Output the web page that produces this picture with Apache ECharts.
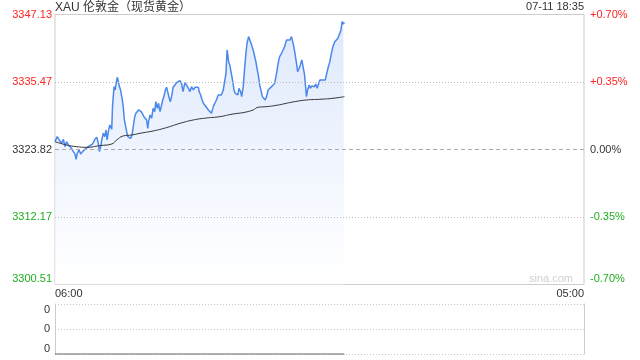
<!DOCTYPE html>
<html>
<head>
<meta charset="utf-8">
<script src="https://cdn.jsdelivr.net/npm/echarts@6/dist/echarts.min.js"></script>
<style>
html,body{margin:0;padding:0;background:#fff;}
#c{width:640px;height:360px;}
</style>
</head>
<body>
<div id="c"></div>
<script>
// ---- data ----
const title = 'XAU 伦敦金（现货黄金）';
const stamp = '07-11 18:35';
const watermark = 'sina.com';
const sessionLabels = ['06:00', '05:00'];   // x-axis ends
const sessionMinutes = 1380;                // 06:00 -> 05:00 next day
const prevClose = 3323.82;
const priceMin = 3300.51;
const priceMax = 3347.13;
const leftLabels = ['3300.51', '3312.17', '3323.82', '3335.47', '3347.13'];
const rightLabels = ['-0.70%', '-0.35%', '0.00%', '+0.35%', '+0.70%'];
const gridLevels = [3312.17, 3335.47];

// minutes since 06:00
const times = [0,6,11,17,22,26,30,35,39,43,48,52,55,58,63,67,72,78,83,87,91,98,104,109,113,116,119,122,126,130,133,136,139,143,148,150,154,157,161,163,167,171,175,178,181,184,187,190,194,197,201,204,208,211,215,218,222,225,228,232,235,239,242,244,248,252,256,260,263,267,270,274,277,281,284,288,291,295,298,301,305,308,313,317,321,326,330,334,339,343,348,352,356,361,365,369,374,376,380,383,387,391,395,400,404,408,413,417,421,426,430,434,439,442,446,449,453,456,460,463,467,470,473,477,480,484,487,491,494,498,501,505,507,510,513,517,520,524,527,531,534,538,541,545,548,552,556,560,565,569,573,578,582,586,591,595,599,604,608,613,617,619,623,626,630,633,637,640,644,647,651,654,656,659,663,666,670,673,677,680,684,687,691,694,698,701,705,708,712,717,721,725,730,734,738,743,746,749,752,755];
const prices = [3325.18,3326.04,3325.46,3324.89,3325.58,3324.31,3325.18,3324.60,3324.89,3324.03,3323.45,3323.05,3322.13,3323.16,3323.74,3323.05,3323.45,3323.85,3323.62,3324.31,3324.43,3324.77,3325.58,3325.93,3324.89,3323.45,3324.31,3325.46,3326.62,3326.04,3327.19,3325.46,3326.90,3328.05,3327.31,3331.22,3334.67,3334.10,3335.83,3336.29,3334.96,3334.10,3332.66,3331.22,3328.92,3328.63,3326.90,3326.04,3326.33,3325.75,3326.33,3326.16,3329.49,3330.07,3329.78,3330.65,3330.93,3330.36,3330.65,3329.49,3329.78,3328.92,3327.48,3328.63,3329.78,3329.21,3330.93,3330.36,3332.08,3330.93,3331.80,3330.36,3331.22,3332.37,3332.95,3334.10,3334.56,3333.52,3332.66,3332.08,3333.24,3334.56,3334.96,3335.37,3335.54,3335.71,3335.25,3333.81,3335.37,3334.96,3334.39,3333.81,3334.67,3334.10,3334.56,3334.79,3334.56,3333.81,3333.24,3332.49,3331.80,3331.51,3331.11,3330.65,3330.93,3330.07,3331.22,3331.80,3332.37,3333.24,3333.52,3333.24,3334.10,3333.81,3336.98,3341.01,3338.99,3338.42,3338.13,3335.83,3334.10,3333.52,3333.81,3333.24,3334.39,3333.81,3332.95,3334.67,3337.26,3340.43,3342.16,3343.31,3343.60,3342.44,3342.16,3341.01,3340.14,3338.99,3337.84,3336.40,3334.96,3333.81,3332.95,3332.66,3332.37,3332.95,3334.10,3334.21,3334.67,3334.79,3335.25,3336.98,3338.70,3339.85,3340.43,3341.01,3341.58,3342.73,3343.02,3342.73,3343.31,3343.42,3341.58,3340.43,3338.70,3337.26,3337.84,3338.42,3339.28,3338.13,3336.69,3334.39,3332.95,3334.10,3334.96,3334.39,3334.79,3334.96,3334.67,3335.13,3334.39,3334.67,3335.83,3336.11,3335.83,3335.94,3335.83,3336.69,3337.84,3338.99,3340.43,3341.58,3342.44,3342.73,3343.02,3343.31,3344.46,3345.90,3345.50,3345.73];

const avgTimes = [0,30,56,83,117,148,161,178,200,222,256,291,326,361,395,430,465,491,517,530,552,578,604,621,656,691,725,755];
const avgPrices = [3325.18,3324.60,3324.31,3324.20,3324.49,3324.77,3325.46,3326.16,3326.33,3326.62,3327.02,3327.60,3328.34,3328.92,3329.26,3329.49,3329.96,3330.19,3330.65,3331.11,3331.22,3331.45,3331.80,3332.03,3332.37,3332.49,3332.66,3332.95];

const volTimes = [0, 755];
const volumes = [0, 0];
const volLabels = ['0', '0', '0'];

// ---- chart ----
const FONT = '"Liberation Sans", Arial, "Noto Sans CJK SC", sans-serif';
const RED = '#f22', GREEN = '#1fae1f', DARK = '#333';
const labelColor = (v, i) => (i > 2 ? RED : (i === 2 ? DARK : GREEN));
const pair = (xs, ys) => xs.map((x, i) => [x, ys[i]]);

const chart = echarts.init(document.getElementById('c'), null, {renderer: 'canvas'});
chart.setOption({
  animation: false,
  textStyle: {fontFamily: FONT},
  title: [
    {text: title, left: 55, top: 1.5, padding: 0, textStyle: {fontSize: 12, fontWeight: 'normal', color: DARK, fontFamily: FONT}},
    {text: stamp, right: 56, top: 1.5, padding: 0, textStyle: {fontSize: 11, fontWeight: 'normal', color: DARK, fontFamily: FONT}},
    {text: watermark, right: 67, top: 273, padding: 0, textStyle: {fontSize: 11, fontWeight: 'normal', color: '#d0d0d0', fontFamily: FONT}}
  ],
  grid: [
    {left: 55, right: 56, top: 14.5, height: 270, show: true, borderColor: '#ccc', borderWidth: 1, backgroundColor: 'transparent'},
    {left: 55, right: 56, top: 304, height: 50}
  ],
  xAxis: [
    {type: 'value', gridIndex: 0, min: 0, max: sessionMinutes, interval: sessionMinutes,
     axisLine: {show: false}, axisTick: {show: false}, splitLine: {show: false},
     axisLabel: {formatter: (v, i) => sessionLabels[i], color: DARK, fontSize: 11, margin: 4,
                 alignMinLabel: 'left', alignMaxLabel: 'right', fontFamily: FONT}},
    {type: 'value', gridIndex: 1, min: 0, max: sessionMinutes, show: false}
  ],
  yAxis: [
    {type: 'value', gridIndex: 0, min: priceMin, max: priceMax, interval: (priceMax - priceMin) / 4,
     axisLine: {show: false}, axisTick: {show: false}, splitLine: {show: false},
     axisLabel: {formatter: (v, i) => leftLabels[i], color: labelColor, fontSize: 11, margin: 3,
                 verticalAlignMinLabel: 'bottom', verticalAlignMaxLabel: 'top', fontFamily: FONT}},
    {type: 'value', gridIndex: 0, position: 'right', min: priceMin, max: priceMax, interval: (priceMax - priceMin) / 4,
     axisLine: {show: false}, axisTick: {show: false}, splitLine: {show: false},
     axisLabel: {formatter: (v, i) => rightLabels[i], color: labelColor, fontSize: 11, margin: 6,
                 verticalAlignMinLabel: 'bottom', verticalAlignMaxLabel: 'top', fontFamily: FONT}},
    {type: 'value', gridIndex: 1, min: 0, max: 1, interval: 0.5,
     axisLine: {show: true, lineStyle: {color: '#ccc'}}, axisTick: {show: false},
     splitLine: {show: true, lineStyle: {color: '#c8c8c8', type: [1, 2]}},
     axisLabel: {formatter: (v, i) => volLabels[i], color: DARK, fontSize: 11, margin: 5,
                 verticalAlignMinLabel: 'bottom', verticalAlignMaxLabel: 'top', fontFamily: FONT}},
    {type: 'value', gridIndex: 1, position: 'right', min: 0, max: 1,
     axisLine: {show: true, lineStyle: {color: '#ccc'}}, axisTick: {show: false},
     splitLine: {show: false}, axisLabel: {show: false}}
  ],
  series: [
    {type: 'line', xAxisIndex: 0, yAxisIndex: 0, data: pair(times, prices), showSymbol: false,
     lineStyle: {color: '#4b88ec', width: 1.5}, itemStyle: {color: '#4b88ec'},
     areaStyle: {origin: 'start', color: new echarts.graphic.LinearGradient(0, 0, 0, 1, [
       {offset: 0, color: '#d0dffa'}, {offset: 1, color: '#ffffff'}])},
     markLine: {silent: true, symbol: 'none', label: {show: false},
       data: [
         {yAxis: gridLevels[0], lineStyle: {color: '#bbb', type: [1, 2], width: 1}},
         {yAxis: gridLevels[1], lineStyle: {color: '#bbb', type: [1, 2], width: 1}},
         {yAxis: prevClose, lineStyle: {color: '#aaa', type: [4, 3], width: 1}}
       ]},
     z: 3},
    {type: 'line', xAxisIndex: 0, yAxisIndex: 0, data: pair(avgTimes, avgPrices), showSymbol: false, smooth: true,
     lineStyle: {color: '#333', width: 1}, itemStyle: {color: '#333'}, z: 4},
    {type: 'line', xAxisIndex: 1, yAxisIndex: 2, data: pair(volTimes, volumes), showSymbol: false,
     lineStyle: {color: '#666', width: 1.2}, itemStyle: {color: '#666'}, clip: false}
  ]
});
</script>
</body>
</html>
